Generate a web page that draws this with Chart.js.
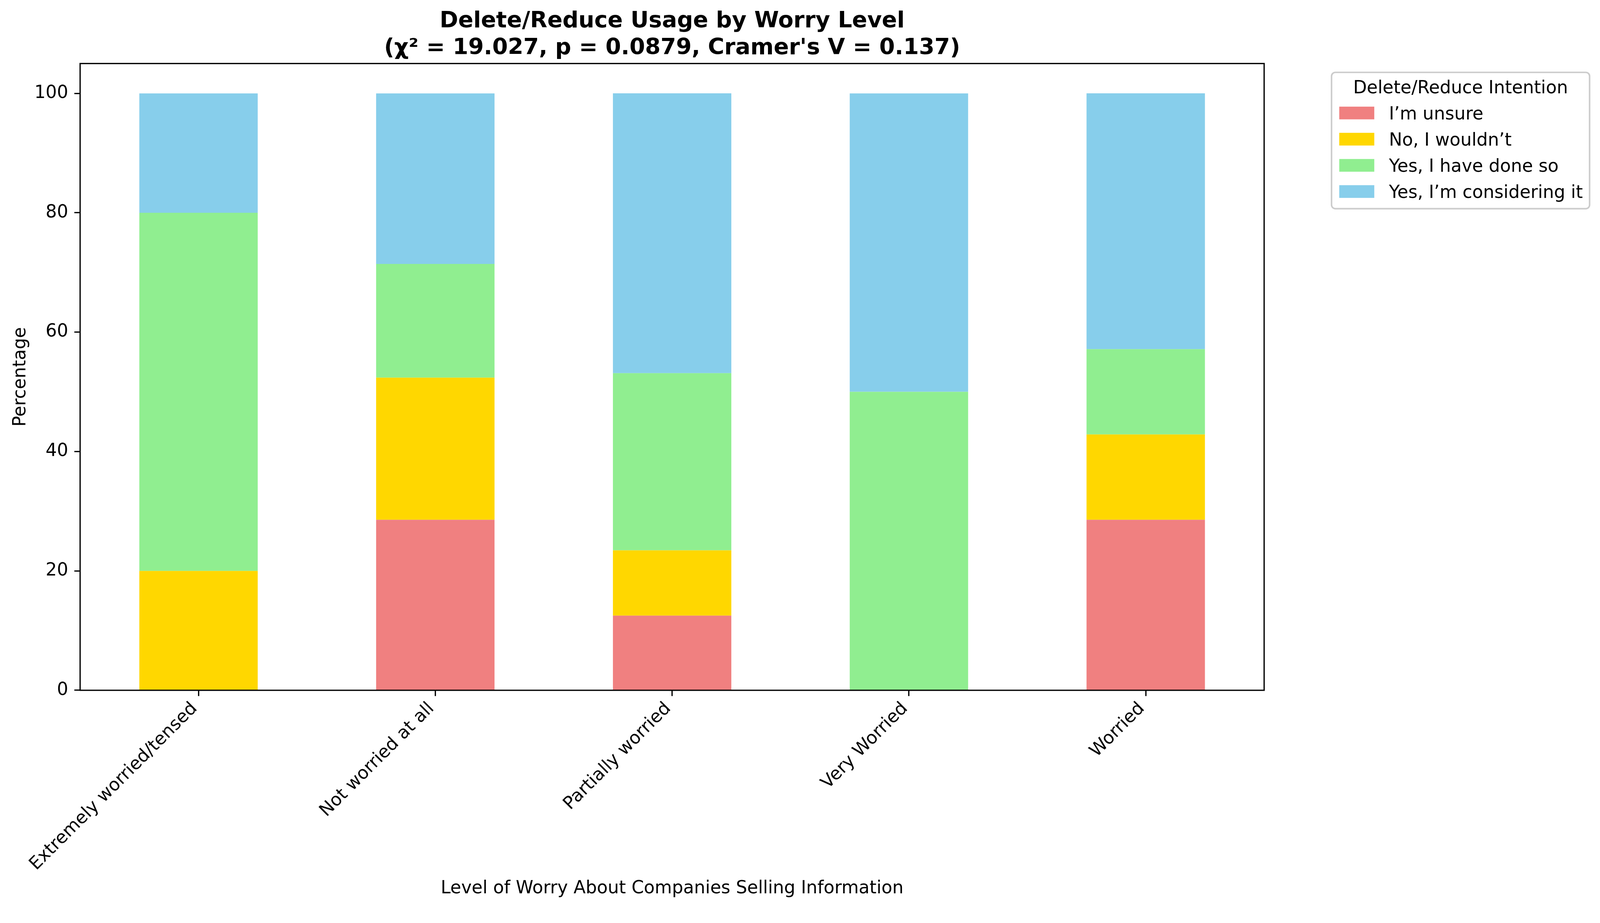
<!DOCTYPE html>
<html>
<head>
<meta charset="utf-8">
<script src="https://cdn.jsdelivr.net/npm/chart.js@4/dist/chart.umd.min.js"></script>
<style>
  html, body { margin: 0; padding: 0; background: #fff; overflow: hidden; }
  #wrap { position: relative; }
</style>
</head>
<body>
<div id="wrap"><canvas id="worry-chart"></canvas></div>
<script>
const categories = ['Extremely worried/tensed', 'Not worried at all', 'Partially worried', 'Very Worried', 'Worried'];
const seriesNames = ['I\u2019m unsure', 'No, I wouldn\u2019t', 'Yes, I have done so', 'Yes, I\u2019m considering it'];
const unsure = [0, 28.57, 12.5, 0, 28.57];
const wouldnt = [20, 23.81, 10.94, 0, 14.29];
const haveDone = [60, 19.05, 29.69, 50, 14.29];
const considering = [20, 28.57, 46.88, 50, 42.86];
const yTicks = [0, 20, 40, 60, 80, 100];
const titleLines = ['Delete/Reduce Usage by Worry Level', '(\u03c7\u00b2 = 19.027, p = 0.0879, Cramer\'s V = 0.137)'];
const legendTitle = 'Delete/Reduce Intention';

const colors = ['#F08080', '#FFD700', '#90EE90', '#87CEEB'];
const font = 'DejaVu Sans';

// sizes below are in screenshot pixels (4154 x 2364); S maps them to css pixels
const S = Math.min(window.innerWidth / 4154, window.innerHeight / 2364);
const px = v => v * S;
const wrap = document.getElementById('wrap');
wrap.style.width = px(4154) + 'px';
wrap.style.height = px(2364) + 'px';

Chart.defaults.color = '#000';
Chart.defaults.font.family = font;

// title, spines and legend box drawn like matplotlib does
const extras = {
  id: 'extras',
  afterDatasetsDraw(chart) {
    const ctx = chart.ctx;
    const a = chart.chartArea;
    ctx.save();
    ctx.strokeStyle = '#000';
    ctx.lineWidth = px(3.3);
    ctx.strokeRect(a.left, a.top, a.right - a.left, a.bottom - a.top);
    ctx.restore();
  },
  afterDraw(chart) {
    const ctx = chart.ctx;
    const a = chart.chartArea;
    ctx.save();
    // title
    ctx.fillStyle = '#000';
    ctx.textAlign = 'center';
    ctx.textBaseline = 'alphabetic';
    ctx.font = 'bold ' + px(58) + 'px "' + font + '"';
    const cx = (a.left + a.right) / 2;
    ctx.fillText(titleLines[0], cx, a.top - px(94));
    ctx.fillText(titleLines[1], cx, a.top - px(24));

    // legend
    const lx = a.right + px(175), ly = a.top + px(23), lw = px(670), lh = px(354);
    ctx.beginPath();
    ctx.roundRect(lx, ly, lw, lh, px(10));
    ctx.fillStyle = 'rgba(255,255,255,0.8)';
    ctx.fill();
    ctx.strokeStyle = '#cccccc';
    ctx.lineWidth = px(4);
    ctx.stroke();
    ctx.fillStyle = '#000';
    ctx.font = px(46) + 'px "' + font + '"';
    ctx.textAlign = 'center';
    ctx.fillText(legendTitle, lx + lw / 2, ly + px(54));
    ctx.textAlign = 'left';
    chart.data.datasets.forEach((ds, i) => {
      const base = ly + px(122 + i * 68);
      ctx.fillStyle = ds.backgroundColor;
      ctx.fillRect(lx + px(20), base - px(33), px(91), px(33));
      ctx.fillStyle = '#000';
      ctx.fillText(ds.label, lx + px(149), base);
    });
    ctx.restore();
  }
};

const ctx = document.getElementById('worry-chart').getContext('2d');
const data = {
  labels: categories,
  datasets: [unsure, wouldnt, haveDone, considering].map((vals, i) => ({
    label: seriesNames[i],
    data: vals,
    backgroundColor: colors[i],
    borderWidth: 0,
    barPercentage: 0.5,
    categoryPercentage: 1.0
  }))
};

const tickGrid = { display: true, drawOnChartArea: false, drawTicks: true, tickLength: px(15), tickWidth: px(3.3), tickColor: '#000' };

const config = {
  type: 'bar',
  data: data,
  options: {
    responsive: true,
    maintainAspectRatio: false,
    animation: false,
    layout: { padding: { top: px(165), right: px(872), bottom: 0, left: 0 } },
    plugins: {
      legend: { display: false },
      title: { display: false },
      tooltip: { enabled: false }
    },
    scales: {
      x: {
        stacked: true,
        grid: Object.assign({ offset: false }, tickGrid),
        border: { display: false },
        ticks: { font: { size: px(46) }, color: '#000', minRotation: 45, maxRotation: 45, autoSkip: false, padding: px(6), labelOffset: px(-10) },
        title: { display: true, text: 'Level of Worry About Companies Selling Information', font: { size: px(46) }, color: '#000', padding: { top: 0, bottom: px(28) } },
        afterFit(scale) { scale.height = px(571); }
      },
      y: {
        stacked: true,
        min: 0,
        max: 105,
        grid: tickGrid,
        border: { display: false },
        ticks: { font: { size: px(46) }, color: '#000', padding: px(16) },
        afterBuildTicks(scale) { scale.ticks = yTicks.map(v => ({ value: v })); },
        title: { display: true, text: 'Percentage', font: { size: px(46) }, color: '#000', padding: { top: px(26), bottom: 0 } },
        afterFit(scale) { scale.width = px(208); }
      }
    }
  },
  plugins: [extras]
};

const worryChart = new Chart(ctx, config);
</script>
</body>
</html>
